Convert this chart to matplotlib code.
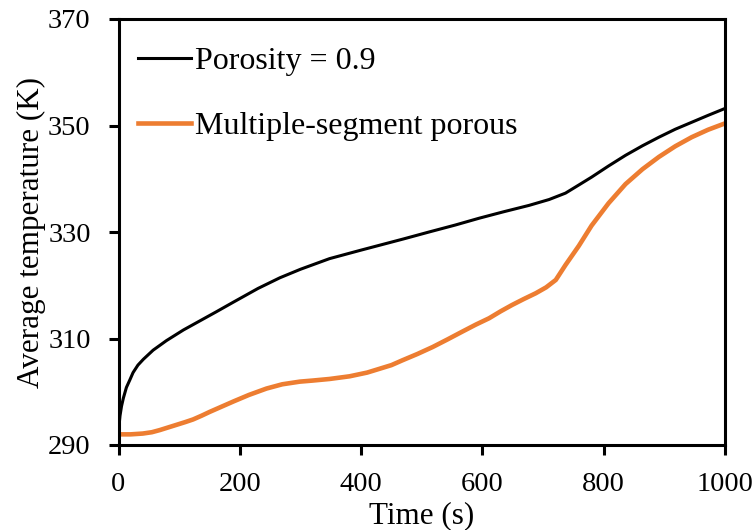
import matplotlib
matplotlib.use("Agg")
import matplotlib.pyplot as plt
from matplotlib.ticker import FixedLocator

plt.rcParams['font.family'] = ['Liberation Serif', 'DejaVu Serif']

# Data
t_black = [0, 1, 2.5, 5, 8, 13, 19, 24, 32, 41, 57, 79, 107, 134, 161, 189, 230,
           266, 300, 348, 400, 430, 470, 512, 555, 595, 635, 677, 710, 737, 760,
           780, 808, 836, 864, 891, 918, 945, 972, 1000]
T_black = [292.0, 293.8, 295.5, 297.3, 298.8, 300.8, 302.3, 303.6, 305.0, 306.1,
           307.8, 309.6, 311.6, 313.3, 315.0, 316.8, 319.4, 321.4, 323.0, 325.0,
           326.6, 327.5, 328.7, 330.0, 331.3, 332.6, 333.8, 335.0, 336.1, 337.3,
           338.9, 340.3, 342.4, 344.4, 346.2, 347.8, 349.3, 350.6, 351.9, 353.2]

t_orange = [0, 20, 40, 55, 68, 82, 96, 110, 123, 137, 150, 164, 178, 190, 215, 244,
            270, 299, 320, 348, 381, 410, 430, 450, 468, 493, 518, 542, 567, 589,
            611, 630, 649, 668, 688, 705, 721, 737, 759, 780, 808, 836, 864, 891,
            918, 945, 972, 1000]
T_orange = [292.0, 292.0, 292.15, 292.4, 292.8, 293.3, 293.8, 294.3, 294.8, 295.5,
            296.2, 296.9, 297.6, 298.2, 299.4, 300.6, 301.4, 301.9, 302.1, 302.4,
            302.9, 303.6, 304.3, 305.0, 305.9, 307.1, 308.4, 309.8, 311.3, 312.6,
            313.8, 315.1, 316.3, 317.4, 318.5, 319.6, 321.0, 323.8, 327.4, 331.2,
            335.4, 339.0, 341.8, 344.1, 346.1, 347.8, 349.2, 350.4]

labels = ['Porosity = 0.9', 'Multiple-segment porous']
colors = ['#000000', '#ED7D31']
xticks = [0, 200, 400, 600, 800, 1000]
yticks = [290, 310, 330, 350, 370]

fig = plt.figure(figsize=(7.56, 5.30), dpi=100)
ax = fig.add_axes([118.5/756, 1-445/530, (725-118.5)/756, (445-19)/530])

ax.plot(t_black, T_black, color=colors[0], lw=2.2, label=labels[0])
ax.plot(t_orange, T_orange, color=colors[1], lw=3.3, label=labels[1])

ax.set_xlim(0, 1000)
ax.set_ylim(290, 370)
ax.xaxis.set_major_locator(FixedLocator(xticks))
ax.yaxis.set_major_locator(FixedLocator(yticks))

for s in ax.spines.values():
    s.set_linewidth(2.2)
ax.tick_params(direction='out', length=7, width=2.2, labelsize=20.5)
ax.tick_params(axis='x', pad=12.5)
ax.tick_params(axis='y', pad=13)

ax.set_xlabel('Time (s)', fontsize=22.4, labelpad=3)
ax.set_ylabel('Average temperature (K)', fontsize=22.4, labelpad=1.5)

ax.legend(loc='upper left', frameon=False, fontsize=23, handlelength=1.65,
          handletextpad=0.15, labelspacing=1.13, borderaxespad=0.3,
          bbox_to_anchor=(-0.005, 0.988))

fig.savefig('out.png', dpi=100)
